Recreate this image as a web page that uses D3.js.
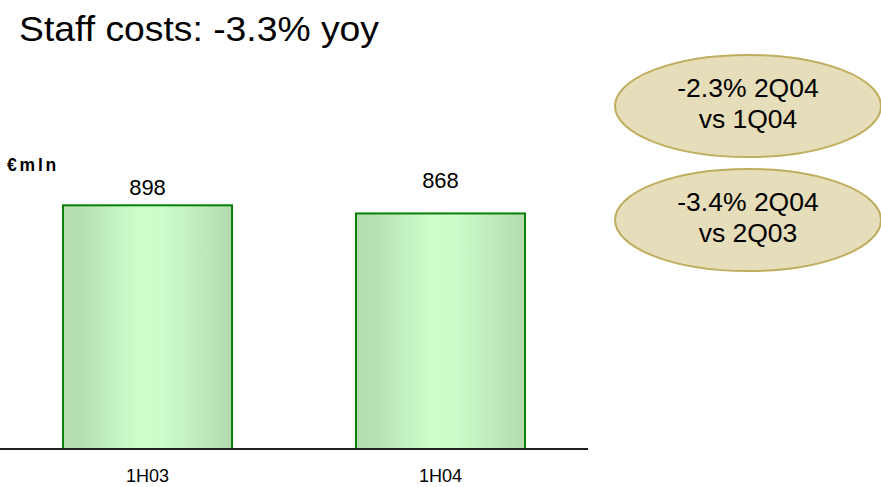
<!DOCTYPE html>
<html>
<head>
<meta charset="utf-8">
<script src="https://cdn.jsdelivr.net/npm/d3@7"></script>
<style>
  html, body { margin: 0; padding: 0; background: #fff; }
  svg { display: block; font-family: "Liberation Sans", Arial, sans-serif; }
</style>
</head>
<body>
<svg id="chart" width="881" height="487"></svg>
<script>
// Staff costs, € million, first half of each year
const categories = ["1H03", "1H04"];
const values = [898, 868];
const valueLabels = ["898", "868"];

// Quarterly comparison callouts
const calloutLines = [
  ["-2.3% 2Q04", "vs 1Q04"],
  ["-3.4% 2Q04", "vs 2Q03"]
];

const titleText = "Staff costs: -3.3% yoy";
const unitText = "€mln";

const svg = d3.select("#chart");

// Plot area
const baseY = 449;
const plotTop = 205.3;
const x = d3.scaleBand()
  .domain(categories)
  .range([0, 588])
  .paddingInner(0.423)
  .paddingOuter(0.215);
const y = d3.scaleLinear()
  .domain([0, d3.max(values)])
  .range([baseY, plotTop]);

// Horizontal gradient for the bars: darker edges, pale centre
const defs = svg.append("defs");
const grad = defs.append("linearGradient")
  .attr("id", "barFill")
  .attr("x1", "0%").attr("x2", "100%")
  .attr("y1", "0%").attr("y2", "0%");
[
  [0, "#b3dbaf"], [0.12, "#b7e1b3"], [0.45, "#ccffcc"],
  [0.58, "#ccfdcb"], [0.85, "#bde8b9"], [1, "#b2daae"]
].forEach(([o, c]) => grad.append("stop").attr("offset", o).attr("stop-color", c));

// Title
svg.append("text")
  .attr("x", 19).attr("y", 41)
  .attr("font-size", 35)
  .attr("textLength", 360)
  .attr("lengthAdjust", "spacingAndGlyphs")
  .attr("fill", "#000")
  .text(titleText);

// Unit label
svg.append("text")
  .attr("x", 7).attr("y", 171)
  .attr("font-size", 17.5)
  .attr("font-weight", "bold")
  .attr("letter-spacing", 2.8)
  .text(unitText);

// Bars
svg.append("g").selectAll("rect")
  .data(values)
  .join("rect")
  .attr("x", (d, i) => x(categories[i]))
  .attr("y", d => y(d))
  .attr("width", x.bandwidth())
  .attr("height", d => baseY - y(d))
  .attr("fill", "url(#barFill)")
  .attr("stroke", "#088008")
  .attr("stroke-width", 2);

// Value labels above the bars
const labelLift = [10, 25];
svg.append("g").selectAll("text")
  .data(values)
  .join("text")
  .attr("x", (d, i) => x(categories[i]) + x.bandwidth() / 2)
  .attr("y", (d, i) => y(d) - labelLift[i])
  .attr("text-anchor", "middle")
  .attr("font-size", 22)
  .text((d, i) => valueLabels[i]);

// Category axis
const xAxis = svg.append("g")
  .attr("transform", `translate(0,${baseY})`)
  .call(d3.axisBottom(x).tickSize(0).tickPadding(20));
xAxis.select(".domain")
  .attr("d", `M0,0H588`)
  .attr("stroke", "#222")
  .attr("stroke-width", 2);
xAxis.selectAll(".tick text")
  .attr("font-family", "Liberation Sans, Arial, sans-serif")
  .attr("font-size", 18)
  .attr("fill", "#000");

// Callout ellipses
const callouts = svg.append("g").selectAll("g")
  .data(calloutLines)
  .join("g")
  .attr("transform", (d, i) => `translate(748,${106 + i * 114})`);
callouts.append("ellipse")
  .attr("rx", 133).attr("ry", 51)
  .attr("fill", "#e6ddbb")
  .attr("stroke", "#bfae5e")
  .attr("stroke-width", 2);
callouts.each(function(lines) {
  const g = d3.select(this);
  lines.forEach((t, j) => {
    g.append("text")
      .attr("x", 0)
      .attr("y", -9 + j * 31)
      .attr("text-anchor", "middle")
      .attr("font-size", 26.5)
      .attr("fill", "#000")
      .text(t);
  });
});
</script>
</body>
</html>
